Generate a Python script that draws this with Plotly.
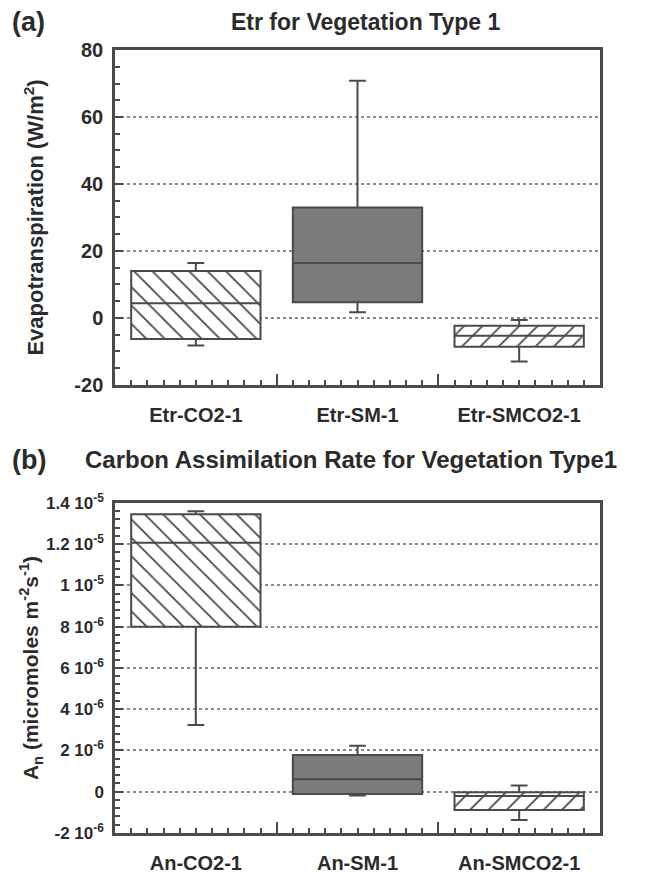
import plotly.graph_objects as go

# ---------------- data ----------------
etr_names = ["Etr-CO2-1", "Etr-SM-1", "Etr-SMCO2-1"]
etr_low = [-8.2, 1.7, -13.0]
etr_q1 = [-6.3, 4.7, -8.6]
etr_med = [4.4, 16.4, -5.3]
etr_q3 = [14.0, 33.0, -2.3]
etr_high = [16.4, 70.8, -0.6]

an_names = ["An-CO2-1", "An-SM-1", "An-SMCO2-1"]
an_low = [3.24e-6, -0.18e-6, -1.37e-6]
an_q1 = [8.0e-6, -0.11e-6, -0.89e-6]
an_med = [12.07e-6, 0.61e-6, -0.2e-6]
an_q3 = [13.45e-6, 1.78e-6, -0.02e-6]
an_high = [13.6e-6, 2.23e-6, 0.3e-6]

etr_tickvals = [-20, 0, 20, 40, 60, 80]
etr_ticktext = ["-20", "0", "20", "40", "60", "80"]
an_tickvals = [-2e-6, 0, 2e-6, 4e-6, 6e-6, 8e-6, 1e-5, 1.2e-5, 1.4e-5]
an_ticktext = ["-2 10<sup>-6</sup>", "0", "2 10<sup>-6</sup>", "4 10<sup>-6</sup>",
               "6 10<sup>-6</sup>", "8 10<sup>-6</sup>", "1 10<sup>-5</sup>",
               "1.2 10<sup>-5</sup>", "1.4 10<sup>-5</sup>"]

# ---------------- style ----------------
FONT = "Liberation Sans, Arial, Helvetica, sans-serif"
TXT = "#2b2b2b"
LINE = "#4a4a4a"
SOLID = "#7b7b7b"
pos = [0, 1, 2]
shapes_pat = ["\\", "", "/"]
colors = ["white", SOLID, "white"]

fig = go.Figure()


def add_panel(xa_bar, xa_box, ya, q1, med, q3, lo, hi):
    fig.add_trace(go.Bar(
        x=pos, y=[b - a for a, b in zip(q1, q3)], base=q1, width=0.8,
        xaxis=xa_bar, yaxis=ya,
        marker=dict(color=colors, line=dict(width=0),
                    pattern=dict(shape=shapes_pat, fgcolor="#3a3a3a", fgopacity=1,
                                 size=13, solidity=0.13)),
        showlegend=False, hoverinfo="skip"))
    fig.add_trace(go.Box(
        x=pos, q1=q1, median=med, q3=q3, lowerfence=lo, upperfence=hi,
        xaxis=xa_box, yaxis=ya, width=0.8, whiskerwidth=0.13,
        fillcolor="rgba(0,0,0,0)", line=dict(color=LINE, width=2),
        boxpoints=False, showlegend=False))


add_panel("x", "x3", "y", etr_q1, etr_med, etr_q3, etr_low, etr_high)
add_panel("x2", "x4", "y2", an_q1, an_med, an_q3, an_low, an_high)

xminor = dict(dtick=0.1, tick0=0, ticks="inside", ticklen=5, tickwidth=2, tickcolor=LINE)
base_x = dict(range=[-0.5, 2.5], tickmode="array", tickvals=[0.5, 1.5], showticklabels=False,
              ticks="inside", ticklen=11, tickwidth=2, tickcolor=LINE, minor=xminor,
              showline=True, linewidth=2.5, linecolor=LINE, mirror=True,
              showgrid=False, zeroline=False, automargin=False)
top_x = dict(range=[-0.5, 2.5], tickmode="array", tickvals=[0.5, 1.5], showticklabels=False,
             ticks="inside", ticklen=11, tickwidth=2, tickcolor=LINE, minor=xminor,
             showline=False, showgrid=False, zeroline=False, automargin=False, side="top")
lab_x = dict(range=[-0.5, 2.5], tickmode="array", tickvals=pos, ticks="",
             showline=False, showgrid=False, zeroline=False, ticklabelstandoff=16,
             automargin=False,
             tickfont=dict(size=20, color=TXT, family=FONT, weight="bold"))

ytick_common = dict(ticks="inside", ticklen=8, tickwidth=2, tickcolor=LINE,
                    zeroline=False, automargin=False)
etr_minor = dict(dtick=5, ticks="inside", ticklen=5, tickwidth=2, tickcolor=LINE)
an_minor = dict(dtick=0.4e-6, tick0=0, ticks="inside", ticklen=5, tickwidth=2, tickcolor=LINE)

# the page body has an 8px margin, so the plot area is shifted by 8px here
fig.update_layout(
    width=651, height=874,
    margin=dict(l=107, r=59, t=42, b=49),
    paper_bgcolor="white", plot_bgcolor="white",
    font=dict(family=FONT, color=TXT, weight="bold"),
    barmode="overlay", boxmode="overlay",
    xaxis=dict(**base_x, anchor="y", domain=[0, 1]),
    xaxis2=dict(**base_x, anchor="y2", domain=[0, 1]),
    xaxis3=dict(**lab_x, overlaying="x", anchor="y", ticktext=etr_names),
    xaxis4=dict(**lab_x, overlaying="x2", anchor="y2", ticktext=an_names),
    xaxis5=dict(**top_x, overlaying="x", anchor="y"),
    xaxis6=dict(**top_x, overlaying="x2", anchor="y2"),
    yaxis=dict(domain=[0.5722, 1.0], range=[-20, 80], tickmode="array",
               tickvals=etr_tickvals, ticktext=etr_ticktext,
               **ytick_common, minor=etr_minor,
               showline=True, linewidth=2.5, linecolor=LINE, mirror=True,
               showgrid=True, gridcolor="#8a8a8a", griddash="dot", gridwidth=1.5,
               ticklabelstandoff=5,
               tickfont=dict(size=20, color=TXT, family=FONT, weight="bold"),
               title=dict(text="Evapotranspiration (W/m<sup>2</sup>)", standoff=25,
                          font=dict(size=22, color=TXT, family=FONT, weight="bold"))),
    yaxis2=dict(domain=[0.0, 0.4215], range=[-2e-6, 1.4e-5], tickmode="array",
                tickvals=an_tickvals, ticktext=an_ticktext,
                **ytick_common, minor=an_minor,
                showline=True, linewidth=2.5, linecolor=LINE, mirror=True,
                showgrid=True, gridcolor="#8a8a8a", griddash="dot", gridwidth=1.5,
                ticklabelstandoff=5,
                tickfont=dict(size=17, color=TXT, family=FONT, weight="bold"),
                title=dict(text="A<sub>n</sub> (micromoles m<sup>-2</sup>s<sup>-1</sup>)", standoff=2,
                           font=dict(size=21, color=TXT, family=FONT, weight="bold"))),
    yaxis3=dict(overlaying="y", anchor="x", side="right", range=[-20, 80], tickmode="array",
                tickvals=etr_tickvals, showticklabels=False, showgrid=False, showline=False,
                **ytick_common, minor=etr_minor),
    yaxis4=dict(overlaying="y2", anchor="x2", side="right", range=[-2e-6, 1.4e-5], tickmode="array",
                tickvals=an_tickvals, showticklabels=False, showgrid=False, showline=False,
                **ytick_common, minor=an_minor),
)

ann_font_lab = dict(size=27, color=TXT, family=FONT, weight="bold")
fig.add_annotation(text="(a)", xref="paper", yref="paper", x=-0.2165, y=1.0358,
                   xanchor="left", yanchor="middle", showarrow=False, font=ann_font_lab)
fig.add_annotation(text="Etr for Vegetation Type 1", xref="paper", yref="paper", x=0.5175, y=1.0358,
                   xanchor="center", yanchor="middle", showarrow=False,
                   font=dict(size=23, color=TXT, family=FONT, weight="bold"))
fig.add_annotation(text="(b)", xref="paper", yref="paper", x=-0.2165, y=0.4764,
                   xanchor="left", yanchor="middle", showarrow=False, font=ann_font_lab)
fig.add_annotation(text="Carbon Assimilation Rate for Vegetation Type1", xref="paper", yref="paper",
                   x=0.4866, y=0.4764, xanchor="center", yanchor="middle", showarrow=False,
                   font=dict(size=24, color=TXT, family=FONT, weight="bold"))

fig.write_html("out.html")
